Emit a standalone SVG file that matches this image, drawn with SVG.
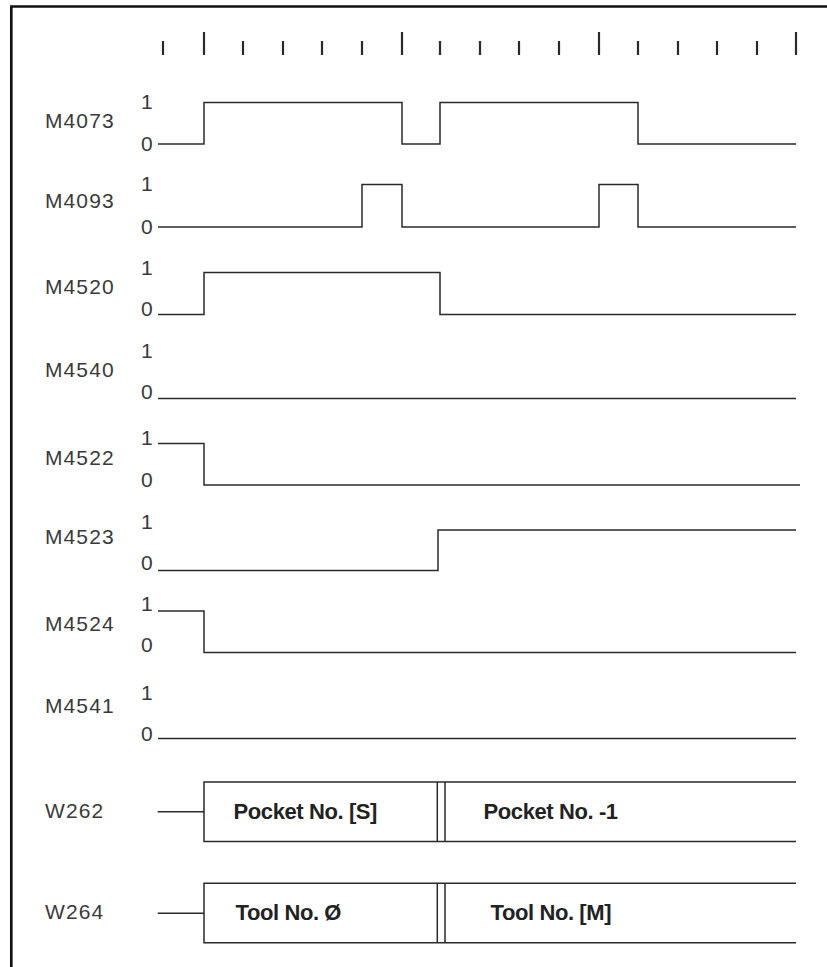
<svg xmlns="http://www.w3.org/2000/svg" width="827" height="967" viewBox="0 0 827 967">
<style>
.lbl{font-family:"Liberation Sans",Arial,Helvetica,sans-serif;font-size:21px;fill:#3a3a3a;letter-spacing:1.1px}
.dig{font-family:"Liberation Sans",Arial,Helvetica,sans-serif;font-size:21px;fill:#3a3a3a}
.bold{font-family:"Liberation Sans",Arial,Helvetica,sans-serif;font-size:22px;font-weight:bold;fill:#222;letter-spacing:-0.4px}
.sig{fill:none;stroke:#2a2a2a;stroke-width:1.5}
.tick{stroke:#2a2a2a;stroke-width:2.2}
.frame{stroke:#111;stroke-width:2.6;fill:none}
.box{fill:none;stroke:#2a2a2a;stroke-width:1.5}
</style>
<rect x="0" y="0" width="827" height="967" fill="#fff"/>
<g id="frame">
<path class="frame" d="M11.3,967 V6.5 H827"/>
</g>
<g id="ticks">
<line class="tick" x1="163" y1="41" x2="163" y2="55"/>
<line class="tick" x1="204" y1="32" x2="204" y2="55"/>
<line class="tick" x1="243" y1="41" x2="243" y2="55"/>
<line class="tick" x1="283" y1="41" x2="283" y2="55"/>
<line class="tick" x1="322" y1="41" x2="322" y2="55"/>
<line class="tick" x1="362" y1="41" x2="362" y2="55"/>
<line class="tick" x1="402" y1="32" x2="402" y2="55"/>
<line class="tick" x1="440" y1="41" x2="440" y2="55"/>
<line class="tick" x1="480" y1="41" x2="480" y2="55"/>
<line class="tick" x1="519" y1="41" x2="519" y2="55"/>
<line class="tick" x1="559" y1="41" x2="559" y2="55"/>
<line class="tick" x1="599" y1="32" x2="599" y2="55"/>
<line class="tick" x1="638" y1="41" x2="638" y2="55"/>
<line class="tick" x1="678" y1="41" x2="678" y2="55"/>
<line class="tick" x1="717" y1="41" x2="717" y2="55"/>
<line class="tick" x1="757" y1="41" x2="757" y2="55"/>
<line class="tick" x1="796" y1="32" x2="796" y2="55"/>
</g>
<g id="M4073">
<text class="lbl" x="45" y="128">M4073</text>
<text class="dig" x="141" y="109">1</text>
<text class="dig" x="141" y="151">0</text>
<path class="sig" d="M158,144 H204 V102.5 H402 V144 H440 V102.5 H638 V144 H796"/>
</g>
<g id="M4093">
<text class="lbl" x="45" y="208">M4093</text>
<text class="dig" x="141" y="191">1</text>
<text class="dig" x="141" y="234">0</text>
<path class="sig" d="M158,227 H362 V184.5 H402 V227 H599 V184.5 H638 V227 H796"/>
</g>
<g id="M4520">
<text class="lbl" x="45" y="294">M4520</text>
<text class="dig" x="141" y="275">1</text>
<text class="dig" x="141" y="316">0</text>
<path class="sig" d="M158,314.5 H204 V272.5 H440 V314.5 H796"/>
</g>
<g id="M4540">
<text class="lbl" x="45" y="377">M4540</text>
<text class="dig" x="141" y="358">1</text>
<text class="dig" x="141" y="398.5">0</text>
<path class="sig" d="M158,398.5 H796"/>
</g>
<g id="M4522">
<text class="lbl" x="45" y="465">M4522</text>
<text class="dig" x="141" y="445">1</text>
<text class="dig" x="141" y="487">0</text>
<path class="sig" d="M158,443.5 H204 V485 H800"/>
</g>
<g id="M4523">
<text class="lbl" x="45" y="544">M4523</text>
<text class="dig" x="141" y="529">1</text>
<text class="dig" x="141" y="570">0</text>
<path class="sig" d="M158,570.5 H438 V530 H796"/>
</g>
<g id="M4524">
<text class="lbl" x="45" y="631">M4524</text>
<text class="dig" x="141" y="611">1</text>
<text class="dig" x="141" y="652">0</text>
<path class="sig" d="M158,611 H204 V652.5 H796"/>
</g>
<g id="M4541">
<text class="lbl" x="45" y="713">M4541</text>
<text class="dig" x="141" y="700">1</text>
<text class="dig" x="141" y="741">0</text>
<path class="sig" d="M158,738.5 H796"/>
</g>
<g id="W262">
<text class="lbl" x="45" y="818">W262</text>
<path class="box" d="M796,782 H204 V841.5 H796 M437.3,782 V841.5 M445,782 V841.5"/>
<text class="bold" x="233.5" y="819">Pocket No. [S]</text>
<text class="bold" x="483.5" y="819">Pocket No. -1</text>
</g>
<g id="W264">
<text class="lbl" x="45" y="919">W264</text>
<path class="box" d="M796,883.3 H204 V942.7 H796 M437.3,883.3 V942.7 M445,883.3 V942.7"/>
<text class="bold" x="235.5" y="920">Tool No. Ø</text>
<text class="bold" x="490.5" y="920">Tool No. [M]</text>
</g>
<g id="connectors">
<line class="sig" x1="157.7" y1="811.7" x2="204" y2="811.7"/>
<line class="sig" x1="157.7" y1="913.3" x2="204" y2="913.3"/>
</g>
</svg>
